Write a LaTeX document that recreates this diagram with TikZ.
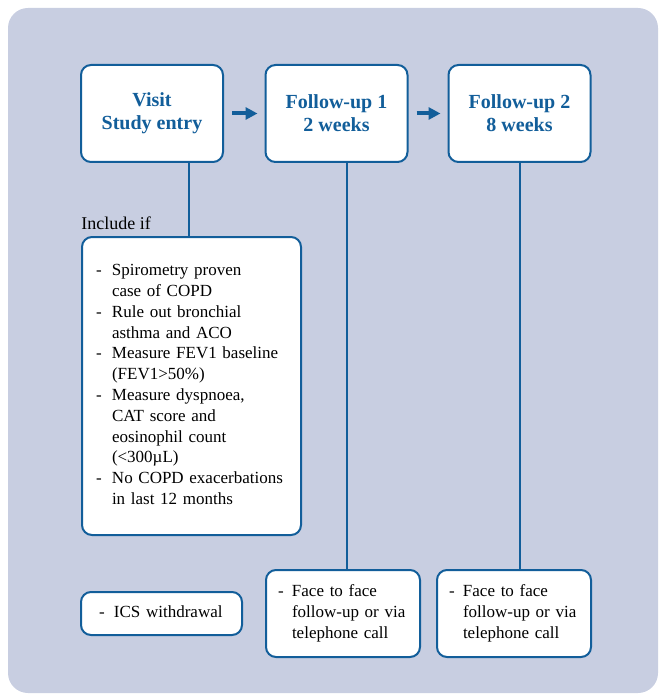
\documentclass[tikz,border=0pt]{standalone}
\usepackage{fontspec}
\setmainfont{Liberation Serif}
\usetikzlibrary{calc,arrows.meta}
\definecolor{panelgrey}{RGB}{200,206,225}
\definecolor{studyblue}{RGB}{18,94,154}
\tikzset{
    % Visit boxes along the top row
    visitbox/.style={
        rectangle, rounded corners=5pt, draw=studyblue, fill=white,
        line width=1pt, minimum width=71pt, minimum height=48.5pt,
        align=center, text=studyblue,
        font=\fontsize{10}{11.5}\selectfont\bfseries
    },
    % Boxes holding the dashed lists
    listbox/.style={
        rectangle, rounded corners=5pt, draw=studyblue, fill=white,
        line width=1pt, align=left, text=black,
        font=\fontsize{8.5}{10.4}\selectfont
    },
    % Connectors
    flowarrow/.style={-{Triangle[length=6pt,width=6pt]}, line width=2pt, studyblue,
        shorten <=4pt, shorten >=3.5pt},
    link/.style={line width=1.4pt, studyblue},
}

\begin{document}
\begin{tikzpicture}[x=0.5pt,y=-0.5pt]
  \useasboundingbox (0,0) rectangle (659,695);
  % grey panel
  \fill[panelgrey, rounded corners=10pt] (8,8) rectangle (658,693);

  % visits
  \node[visitbox] (visit) at (152,113.5)   {Visit\\Study entry};
  \node[visitbox] (fu1)   at (336.5,113.5) {Follow-up 1\\2 weeks};
  \node[visitbox] (fu2)   at (519.5,113.5) {Follow-up 2\\8 weeks};
  \draw[flowarrow] (visit) -- (fu1);
  \draw[flowarrow] (fu1) -- (fu2);

  % inclusion criteria
  \node[font=\fontsize{9}{11}\selectfont, inner sep=0pt, anchor=base west] (inclif) at (81,229) {Include if};
  \node[listbox, text width=95.5pt, inner xsep=7pt, minimum height=149pt] (incl) at (191.5,386) {%
    \begin{tabular}{@{}p{8pt}@{}l@{}}
      - & Spirometry proven\\
        & case of COPD\\
      - & Rule out bronchial\\
        & asthma and ACO\\
      - & Measure FEV1 baseline\\
        & (FEV1>50\%)\\
      - & Measure dyspnoea,\\
        & CAT score and\\
        & eosinophil count\\
        & (<300µL)\\
      - & No COPD exacerbations\\
        & in last 12 months
    \end{tabular}};

  % bottom row
  \node[listbox, text width=62.5pt, inner xsep=9pt, minimum height=21.5pt] (ics) at (161.5,613.5) {%
    \begin{tabular}{@{}p{7.5pt}@{}l@{}}
      - & ICS withdrawal
    \end{tabular}};
  \node[listbox, text width=65pt, inner xsep=6pt, minimum height=43.5pt] (face1) at (343,613.5) {%
    \begin{tabular}{@{}p{7pt}@{}l@{}}
      - & Face to face\\
        & follow-up or via\\
        & telephone call
    \end{tabular}};
  \node[listbox, text width=65pt, inner xsep=6pt, minimum height=43.5pt] (face2) at (514,613.5) {%
    \begin{tabular}{@{}p{7pt}@{}l@{}}
      - & Face to face\\
        & follow-up or via\\
        & telephone call
    \end{tabular}};

  % vertical links
  \draw[link] ($(incl.north)+(-2.5,0)$) -- ($(incl.north |- visit.south)+(-2.5,0)$);
  \draw[link] ($(face1.north)+(4,0)$) -- ($(face1.north |- fu1.south)+(4,0)$);
  \draw[link] ($(face2.north)+(6,0)$) -- ($(face2.north |- fu2.south)+(6,0)$);
\end{tikzpicture}
\end{document}
